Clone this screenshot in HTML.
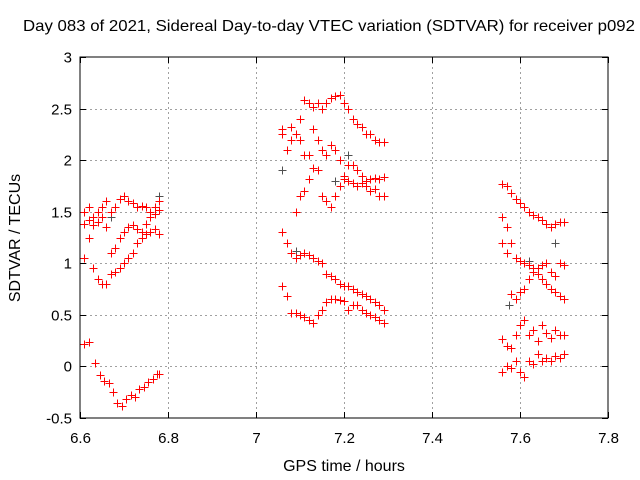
<!DOCTYPE html>
<html><head><meta charset="utf-8"><style>
body{margin:0;background:#fff;}
svg{display:block;font-family:"Liberation Sans",sans-serif;}
</style></head><body>
<svg id="chart" width="640" height="480" xmlns="http://www.w3.org/2000/svg">
<rect width="640" height="480" fill="#fff"/>
<text x="329" y="31" font-size="16" text-anchor="middle" textLength="612" lengthAdjust="spacingAndGlyphs">Day 083 of 2021, Sidereal Day-to-day VTEC variation (SDTVAR) for receiver p092</text>
<text x="344" y="471" font-size="16" text-anchor="middle">GPS time / hours</text>
<text x="20" y="238" font-size="16" text-anchor="middle" transform="rotate(-90 20 238)">SDTVAR / TECUs</text>
<g id="grid"></g><g id="ticks"></g><g id="marks"></g>
<rect x="80" y="57" width="528" height="361" fill="none" stroke="#000" stroke-width="1"/>
</svg>
<script>
const xTicks=[6.6,6.8,7,7.2,7.4,7.6,7.8];
const xTickLabels=["6.6","6.8","7","7.2","7.4","7.6","7.8"];
const yTicks=[-0.5,0,0.5,1,1.5,2,2.5,3];
const yTickLabels=["-0.5","0","0.5","1","1.5","2","2.5","3"];
const t1=[6.61,6.62,6.63,6.64,6.65,6.66,6.67,6.68,6.69,6.70,6.71,6.72,6.73,6.74,6.75,6.76,6.77,6.78];
const v1=[1.5,1.55,1.45,1.5,1.55,1.6,1.5,1.55,1.62,1.65,1.6,1.58,1.55,1.56,1.55,1.5,1.48,1.52];
const t2=[6.61,6.62,6.63,6.64,6.65,6.66,6.67,6.68,6.69,6.70,6.71,6.72,6.73,6.74,6.75,6.76,6.77,6.78];
const v2=[1.38,1.42,1.37,1.4,1.45,1.35,1.1,1.15,1.25,1.3,1.35,1.37,1.33,1.3,1.38,1.45,1.55,1.6];
const t3=[6.61,6.62,6.63,6.64,6.65,6.66,6.67,6.68,6.69,6.70,6.71,6.72,6.73,6.74,6.75,6.76,6.77,6.78];
const v3=[1.05,1.25,0.95,0.85,0.8,0.8,0.9,0.92,0.95,1.0,1.05,1.1,1.2,1.25,1.28,1.3,1.33,1.28];
const t4=[6.61,6.62,6.635,6.645,6.655,6.665,6.675,6.685,6.695,6.705,6.715,6.725,6.735,6.745,6.755,6.765,6.775,6.78];
const v4=[0.22,0.24,0.03,-0.08,-0.14,-0.16,-0.25,-0.35,-0.38,-0.32,-0.28,-0.3,-0.22,-0.2,-0.15,-0.12,-0.07,-0.07];
const t5=[7.06,7.08,7.10,7.11,7.12,7.13,7.14,7.15,7.16,7.17,7.18,7.19,7.20,7.21,7.22,7.23,7.24,7.25,7.26,7.27,7.28,7.29];
const v5=[2.3,2.32,2.4,2.58,2.55,2.52,2.55,2.5,2.55,2.6,2.62,2.63,2.55,2.5,2.4,2.35,2.32,2.25,2.25,2.2,2.18,2.18];
const t6=[7.06,7.07,7.08,7.09,7.10,7.11,7.12,7.13,7.14,7.15,7.16,7.17,7.18,7.19,7.20,7.21,7.22,7.23,7.24,7.25,7.26,7.27,7.28,7.29];
const v6=[2.25,2.1,2.2,2.25,2.2,2.05,2.05,2.3,2.2,2.1,2.05,2.15,2.1,2.0,1.85,1.8,1.78,1.75,1.78,1.75,1.7,1.72,1.65,1.65];
const t7=[7.09,7.10,7.11,7.12,7.13,7.14,7.15,7.16,7.17,7.18,7.19,7.20,7.21,7.22,7.23,7.24,7.25,7.26,7.27,7.28,7.29];
const v7=[1.5,1.65,1.7,1.82,1.92,1.9,1.65,1.6,1.55,1.65,1.75,1.82,1.95,1.95,1.9,1.85,1.8,1.82,1.83,1.82,1.84];
const t8=[7.06,7.07,7.08,7.09,7.10,7.11,7.12,7.13,7.14,7.15,7.16,7.17,7.18,7.19,7.20,7.21,7.22,7.23,7.24,7.25,7.26,7.27,7.28,7.29];
const v8=[1.3,1.2,1.1,1.05,1.08,1.1,1.08,1.05,1.02,1.0,0.9,0.88,0.85,0.8,0.78,0.78,0.75,0.72,0.7,0.68,0.65,0.62,0.6,0.55];
const t9=[7.06,7.07,7.08,7.09,7.10,7.11,7.12,7.13,7.14,7.15,7.16,7.17,7.18,7.19,7.20,7.21,7.22,7.23,7.24,7.25,7.26,7.27,7.28,7.29];
const v9=[0.78,0.68,0.52,0.52,0.5,0.48,0.45,0.42,0.5,0.55,0.62,0.65,0.65,0.64,0.63,0.55,0.6,0.6,0.55,0.52,0.5,0.48,0.45,0.42];
const t10=[7.56,7.57,7.58,7.59,7.60,7.61,7.62,7.63,7.64,7.65,7.66,7.67,7.68,7.69,7.70];
const v10=[1.77,1.75,1.68,1.62,1.58,1.55,1.5,1.47,1.45,1.42,1.38,1.35,1.38,1.4,1.4];
const t11=[7.56,7.57,7.58,7.59,7.60,7.61,7.62,7.63,7.64,7.65,7.66,7.67,7.68,7.69,7.70];
const v11=[1.45,1.35,1.2,1.05,1.02,1.0,0.98,0.95,0.9,0.85,0.8,0.75,0.72,0.68,0.65];
const t12=[7.56,7.57,7.58,7.59,7.60,7.61,7.62,7.63,7.64,7.65,7.66,7.67,7.68,7.69,7.70];
const v12=[1.2,1.1,0.7,0.65,0.72,0.75,0.85,0.92,0.95,0.98,1.0,0.92,0.88,1.0,0.98];
const t13=[7.56,7.57,7.58,7.59,7.60,7.61,7.62,7.63,7.64,7.65,7.66,7.67,7.68,7.69,7.70];
const v13=[0.27,0.2,0.18,0.3,0.4,0.45,0.3,0.35,0.25,0.4,0.32,0.28,0.35,0.3,0.3];
const t14=[7.56,7.57,7.58,7.59,7.60,7.61,7.62,7.63,7.64,7.65,7.66,7.67,7.68,7.69,7.70];
const v14=[-0.05,0,-0.02,0.05,-0.05,-0.1,0.05,0.02,0.12,0.05,0.08,0.05,0.1,0.08,0.12];
const gt=[6.62,6.67,6.78,7.06,7.09,7.18,7.21,7.62,7.61,7.68,7.575];
const gv=[1.55,1.45,1.65,1.9,1.12,1.8,2.05,1.02,0.45,1.2,0.6];

const NS="http://www.w3.org/2000/svg";
const X0=80,X1=608,Y0=418,Y1=57;
function xs(t){return X0+(t-6.6)/(7.8-6.6)*(X1-X0);}
function ys(v){return Y0-(v+0.5)/3.5*(Y0-Y1);}
const grid=document.getElementById('grid'),ticks=document.getElementById('ticks'),marks=document.getElementById('marks');
function ln(p,x1,y1,x2,y2,st,dash){const l=document.createElementNS(NS,'line');l.setAttribute('x1',x1);l.setAttribute('y1',y1);l.setAttribute('x2',x2);l.setAttribute('y2',y2);l.setAttribute('stroke',st);l.setAttribute('stroke-width',1);if(dash)l.setAttribute('stroke-dasharray',dash);p.appendChild(l);return l;}
function tx(x,y,s,anchor){const e=document.createElementNS(NS,'text');e.setAttribute('x',x);e.setAttribute('y',y);e.setAttribute('font-size','15');e.setAttribute('text-anchor',anchor);e.textContent=s;ticks.appendChild(e);return e;}
xTicks.forEach((t,i)=>{const x=Math.round(xs(t))+0.5;
 if(i>0&&i<xTicks.length-1){const g=ln(grid,x,Y1,x,Y0,'#a0a0a0','2,3');
 
 }
 ln(ticks,x,Y0,x,Y0-6,'#000');ln(ticks,x,Y1,x,Y1+6,'#000');
 const e=tx(x,443,xTickLabels[i],'middle');
 
 });
yTicks.forEach((v,i)=>{const y=Math.round(ys(v))+0.5;
 if(i>0&&i<yTicks.length-1){const g=ln(grid,X0,y,X1,y,'#a0a0a0','2,3');
 
 }
 ln(ticks,X0,y,X0+6,y,'#000');ln(ticks,X1,y,X1-6,y,'#000');
 const e=tx(72,y+5,yTickLabels[i],'end');
 
 });
function plus(t,v,c){const x=Math.round(xs(t))+0.5,y=Math.round(ys(v))+0.5;const p=document.createElementNS(NS,'path');
 p.setAttribute('d',`M${x-4} ${y}H${x+4}M${x} ${y-4}V${y+4}`);p.setAttribute('stroke',c);p.setAttribute('stroke-width','1');
 
 
 marks.appendChild(p);}
const series=[[t1,v1],[t2,v2],[t3,v3],[t4,v4],[t5,v5],[t6,v6],[t7,v7],[t8,v8],[t9,v9],[t10,v10],[t11,v11],[t12,v12],[t13,v13],[t14,v14]];
gt.forEach((t,i)=>plus(t,gv[i],'#505050'));
series.forEach(([ts,vs])=>ts.forEach((t,i)=>plus(t,vs[i],'#ff0000')));
</script>
</body></html>
